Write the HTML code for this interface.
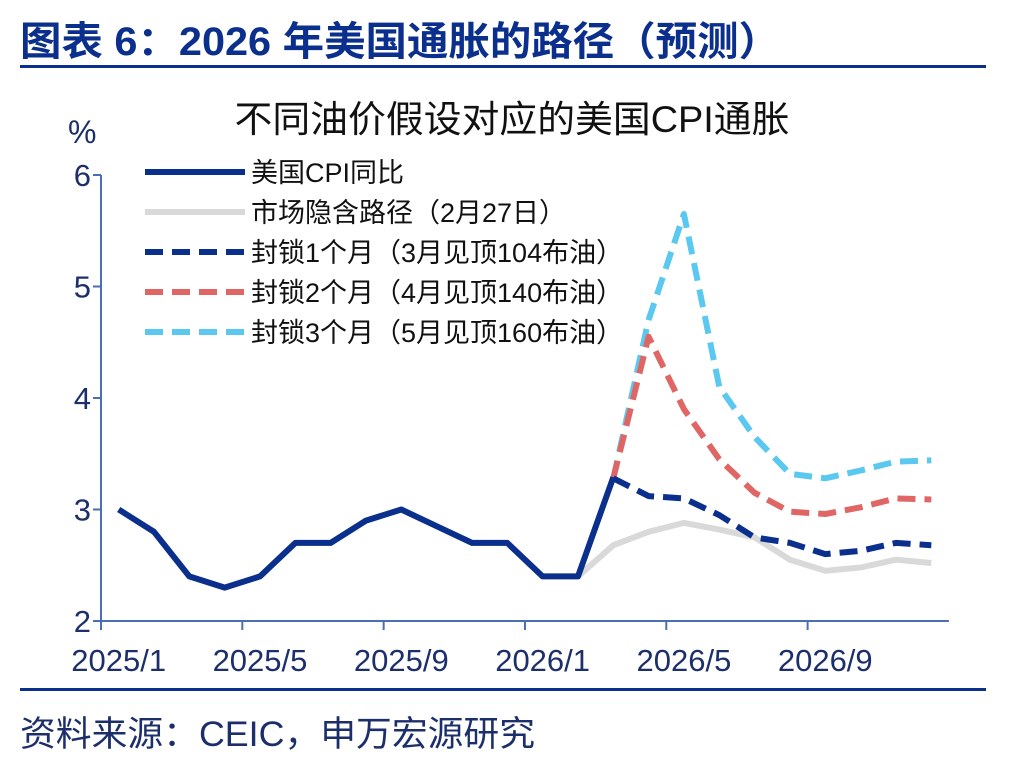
<!DOCTYPE html>
<html><head><meta charset="utf-8"><style>
body{margin:0;background:#fff;width:1024px;height:767px;overflow:hidden;font-family:"Liberation Sans","Noto Sans CJK SC",sans-serif;}
</style></head><body>
<svg width="1024" height="767" xmlns="http://www.w3.org/2000/svg" font-family="Liberation Sans, Noto Sans CJK SC, sans-serif">
<text x="20" y="55" font-size="40" font-weight="bold" fill="#0b2f8c" textLength="760" lengthAdjust="spacingAndGlyphs">图表 6：2026 年美国通胀的路径（预测）</text>
<rect x="20" y="65" width="966" height="3" fill="#0b2f8c"/>
<text x="512" y="132" font-size="37" text-anchor="middle" fill="#111" textLength="555" lengthAdjust="spacingAndGlyphs">不同油价假设对应的美国CPI通胀</text>
<text x="68" y="143" font-size="32" fill="#1c2f6b">%</text>
<g id="axes"></g>
<g id="series"></g>
<g id="legend"></g>
<rect x="20" y="688" width="966" height="3" fill="#0b2f8c"/>
<text x="20" y="746" font-size="35" fill="#1c2f6b" textLength="515" lengthAdjust="spacingAndGlyphs">资料来源：CEIC，申万宏源研究</text>
</svg>
<script>
const xTickLabels=["2025/1","2025/5","2025/9","2026/1","2026/5","2026/9"];
const yTicks=[2,3,4,5,6];
const cpiActual=[3.0,2.8,2.4,2.3,2.4,2.7,2.7,2.9,3.0,2.85,2.7,2.7,2.4,2.4,3.29];
const marketPath=[null,null,null,null,null,null,null,null,null,null,null,null,null,2.4,2.68,2.8,2.88,2.82,2.75,2.55,2.45,2.48,2.55,2.52];
const block1=[null,null,null,null,null,null,null,null,null,null,null,null,null,null,3.28,3.12,3.1,2.95,2.75,2.7,2.6,2.63,2.7,2.68];
const block2=[null,null,null,null,null,null,null,null,null,null,null,null,null,null,3.28,4.55,3.9,3.45,3.15,2.98,2.96,3.02,3.1,3.09];
const block3=[null,null,null,null,null,null,null,null,null,null,null,null,null,null,3.28,4.7,5.65,4.1,3.65,3.32,3.28,3.35,3.43,3.44];
const legendLabels=["美国CPI同比","市场隐含路径（2月27日）","封锁1个月（3月见顶104布油）","封锁2个月（4月见顶140布油）","封锁3个月（5月见顶160布油）"];
const NS="http://www.w3.org/2000/svg";
const x0=101,step=35.33,yTop=175,yBot=621,yMin=2,yMax=6;
const X=i=>x0+step*(i+0.5);
const Y=v=>yBot-(v-yMin)/(yMax-yMin)*(yBot-yTop);
function mk(t,a,p){const e=document.createElementNS(NS,t);for(const k in a)e.setAttribute(k,a[k]);p.appendChild(e);return e;}
const ax=document.getElementById('axes');
const axc="#4a6fb5";
let l=mk('line',{x1:x0,y1:yTop,x2:x0,y2:yBot,stroke:axc,'stroke-width':2},ax);


l=mk('line',{x1:x0-8,y1:yBot,x2:x0+step*24,y2:yBot,stroke:axc,'stroke-width':2},ax);


yTicks.forEach(v=>{
 const t=mk('line',{x1:x0-8,y1:Y(v),x2:x0,y2:Y(v),stroke:axc,'stroke-width':2},ax);
 
 
 const tx=mk('text',{x:x0-10,y:Y(v)+11,'font-size':31,'text-anchor':'end',fill:'#1c2f6b'},ax);tx.textContent=v;
 
 
});
xTickLabels.forEach((s,k)=>{
 const i=k*4;
 const t=mk('line',{x1:x0+step*i,y1:yBot,x2:x0+step*i,y2:yBot+9,stroke:axc,'stroke-width':2},ax);
 
 
 const tx=mk('text',{x:X(i),y:yBot+50,'font-size':31,'text-anchor':'middle',fill:'#1c2f6b'},ax);tx.textContent=s;
 
 
});
const sg=document.getElementById('series');
function path(arr){let d='';arr.forEach((v,i)=>{if(v==null)return;d+=(d?'L':'M')+X(i).toFixed(1)+','+Y(v).toFixed(1);});return d;}
const styles=[
 {arr:marketPath,c:'#d9d9d9',dash:'',name:'market-implied-line'},
 {arr:block3,c:'#5bc8f0',dash:'18,9',name:'block3-line'},
 {arr:block2,c:'#e06666',dash:'18,9',name:'block2-line'},
 {arr:block1,c:'#0b2f8c',dash:'18,9',name:'block1-line'},
 {arr:cpiActual,c:'#0b2f8c',dash:'',name:'cpi-actual-line'}];
styles.forEach(s=>{
 const p=mk('path',{d:path(s.arr),fill:'none',stroke:s.c,'stroke-width':6,'stroke-dasharray':s.dash,'stroke-linejoin':'round'},sg);
 
 
});
const lg=document.getElementById('legend');
const lst=[{c:'#0b2f8c',d:''},{c:'#d9d9d9',d:''},{c:'#0b2f8c',d:'18,9'},{c:'#e06666',d:'18,9'},{c:'#5bc8f0',d:'18,9'}];
legendLabels.forEach((s,i)=>{
 const y=172+i*40;
 const ln=mk('line',{x1:145,y1:y,x2:245,y2:y,stroke:lst[i].c,'stroke-width':6,'stroke-dasharray':lst[i].d},lg);
 
 
 const t=mk('text',{x:251,y:y+10,'font-size':27,fill:'#111'},lg);t.textContent=s;
 
 
});
</script>
</body></html>
